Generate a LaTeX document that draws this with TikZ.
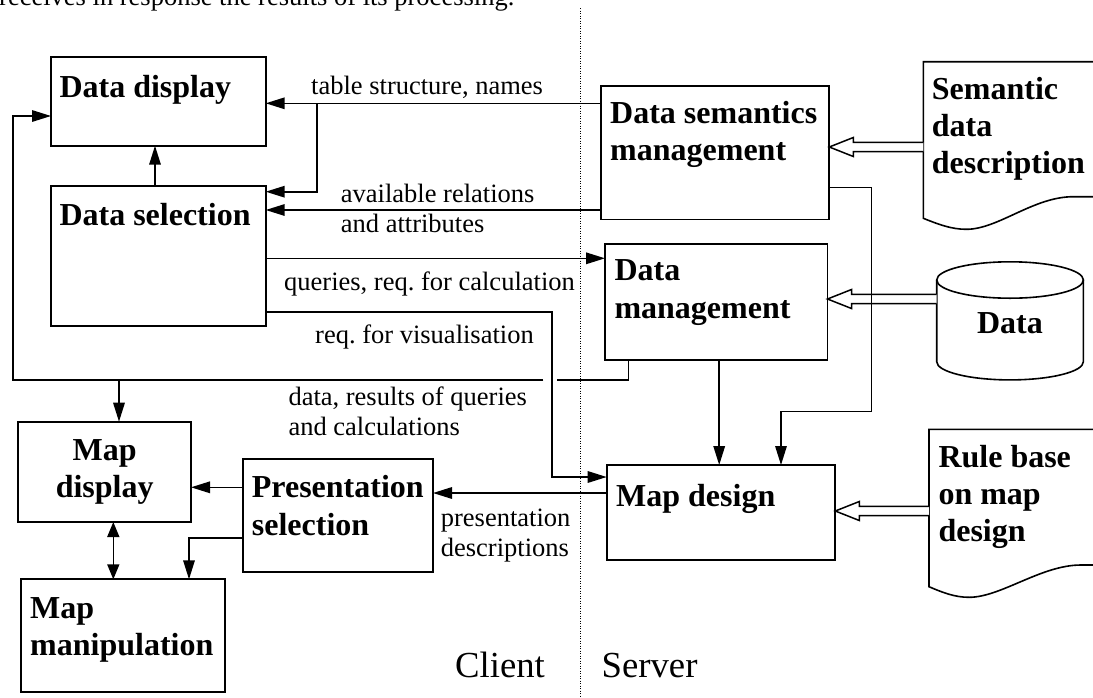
\documentclass[tikz,border=0pt]{standalone}
\usepackage{fontspec}
\setmainfont{Liberation Serif}
\usetikzlibrary{arrows.meta,calc}
\newcommand{\hollowarrow}[2]{%
  \path let \p1=(#1), \p2=(#2) in
    [draw, line width=1.5pt, fill=white]
    (\x1,\y1+4.7pt) -- (\x2+24pt,\y1+4.7pt) -- (\x2+24pt,\y1+9.5pt) -- (\x2,\y1)
    -- (\x2+24pt,\y1-9.5pt) -- (\x2+24pt,\y1-4.7pt) -- (\x1,\y1-4.7pt);}
\begin{document}
\begin{tikzpicture}[x=1pt,y=-1pt,
  box/.style={draw, line width=1.8pt, inner sep=0pt, outer sep=0pt, anchor=north west},
  area/.style={inner sep=0pt, outer sep=0pt, anchor=north west},
  title/.style={font=\bfseries\fontsize{32}{37.2}\selectfont, inner sep=0pt, anchor=base west, align=left},
  lbl/.style={font=\fontsize{26.5}{30}\selectfont\frenchspacing, inner sep=0pt, anchor=base west, align=left},
  big/.style={font=\fontsize{36.7}{40}\selectfont, inner sep=0pt, anchor=base west},
  conn/.style={line width=1.6pt},
  arr/.style={conn, -{Triangle[length=19pt,width=11.5pt]}},
  darr/.style={conn, {Triangle[length=15pt,width=12pt]}-{Triangle[length=15pt,width=12pt]}},
  docline/.style={line width=1.6pt},
  sep/.style={line width=1pt, dash pattern=on 1pt off 1.5pt}]
\useasboundingbox (0,0) rectangle (1093,697);

% cut-off text line at the top
\node[lbl] (toptext) at (-1,5.5) {receives in response the results of its processing.};

% client / server separator
\coordinate (sepTop) at (580,8);
\coordinate (sepBot) at (580,697);
\draw[sep] (sepTop) -- (sepBot);
\node[big] (client) at (455,677) {Client};
\node[big] (server) at (601.5,677) {Server};

% boxes (multi-line texts are anchored at the baseline of their last line)
\node[box, minimum width=214.7pt, minimum height=88.4pt] (dd) at (51,57.3) {};
\node[title] (ddT) at (59.3,97) {Data display};
\node[box, minimum width=214.7pt, minimum height=140pt] (dsel) at (51,185.7) {};
\node[title] (dselT) at (59.3,225) {Data selection};
\node[box, minimum width=228.3pt, minimum height=133.8pt] (dsm) at (601,85.7) {};
\node[title] (dsmT) at (610,160.8) {Data semantics\\management};
\node[box, minimum width=222.5pt, minimum height=116pt] (dm) at (605,244.3) {};
\node[title] (dmT) at (614.3,318) {Data\\management};
\node[box, minimum width=228.6pt, minimum height=95pt] (md) at (606.7,465) {};
\node[title] (mdT) at (616,506) {Map design};
\node[box, minimum width=172.7pt, minimum height=100.3pt] (mdisp) at (18.3,421.7) {};
\node[title, anchor=base, align=center] (mdispT) at (104.7,497.8) {Map\\display};
\node[box, minimum width=190.3pt, minimum height=112.4pt] (ps) at (242.7,459.3) {};
\node[title] (psT) at (251.7,535) {Presentation\\selection};
\node[box, minimum width=204.6pt, minimum height=113pt] (mm) at (20.7,579.3) {};
\node[title] (mmT) at (30,655.3) {Map\\manipulation};

% documents
\node[area, minimum width=172pt, minimum height=156.6pt] (semdoc) at (923.3,61.7) {};
\draw[docline] (semdoc.north east) -- (semdoc.north west) -- (semdoc.south west)
  .. controls +(15,6) and +(-15,0) .. ++(43,11)
  .. controls +(32,0) and +(-40,0) .. ++(107,-32.6) -- ++(30,0);
\node[title] (semdocT) at (931.7,173.8) {Semantic\\data\\description};

\node[area, minimum width=166pt, minimum height=157.4pt] (rule) at (929,429.3) {};
\draw[docline] (rule.north east) -- (rule.north west) -- (rule.south west)
  .. controls +(14,6) and +(-14,0) .. ++(40,10.6)
  .. controls +(32,0) and +(-40,0) .. ++(112,-32.3) -- ++(30,0);
\node[title] (ruleT) at (938.3,541.7) {Rule base\\on map\\design};

% database cylinder
\node[area, minimum width=146.7pt, minimum height=136.5pt] (cyl) at (936.7,261.7) {};
\draw[docline] (936.7,280) -- (936.7,361.7) arc[start angle=180, end angle=0, x radius=73.35, y radius=18.2] -- (1083.4,280);
\draw[docline] (1010.05,280) ellipse [x radius=73.35, y radius=18.2];
\node[title, anchor=base] (cylT) at (1010,333.3) {Data};

% hollow arrows
\hollowarrow{semdoc.west |- 0,147}{dsm.east |- 0,147}
\hollowarrow{cyl.west |- 0,299}{dm.east |- 0,299}
\hollowarrow{rule.west |- 0,511}{md.east |- 0,511}

% connectors
\coordinate (b1) at (316.7,103.3);
\draw[arr] (dsm.west |- b1) -- (dd.east |- b1);
\draw[arr] (b1) -- (316.7,191.7) -- (dsel.east |- 0,191.7);
\draw[arr] (dsm.west |- 0,210) -- (dsel.east |- 0,210);
\draw[arr] (dsel.east |- 0,258.3) -- (dm.west |- 0,258.3);
\coordinate (v1) at (551.7,311.7);
\draw[arr] (dsel.east |- v1) -- (v1) -- (551.7,477) -- (md.west |- 0,477);
\coordinate (r1) at (628.5,380);
\coordinate (gapR) at (556.7,380);
\coordinate (gapL) at (543.3,380);
\coordinate (lcorner) at (12.7,380);
\draw[conn] (dm.south -| r1) -- (r1) -- (gapR);
\draw[arr] (gapL) -- (lcorner) -- (12.7,116) -- (dd.west |- 0,116);
\draw[arr] (119,380) -- (mdisp.north -| 119,0);
\draw[arr] (dsel.north -| 155,0) -- (dd.south -| 155,0);
\draw[arr] (dm.south -| 719.2,0) -- (md.north -| 719.2,0);
\coordinate (s1) at (871.6,187.3);
\draw[arr] (dsm.east |- s1) -- (s1) -- (871.6,411.6) -- (781,411.6) -- (md.north -| 781,0);
\draw[arr] (md.west |- 0,493) -- (ps.east |- 0,493);
\draw[arr] (ps.west |- 0,487.3) -- (mdisp.east |- 0,487.3);
\draw[arr] (ps.west |- 0,537.7) -- (189,537.7) -- (mm.north -| 189,0);
\draw[darr] (mdisp.south -| 113.3,0) -- (mm.north -| 113.3,0);

% connector labels
\node[lbl] (l1) at (311,94) {table structure, names};
\node[lbl] (l2) at (340.7,232.7) {available relations\\and attributes};
\node[lbl] (l3) at (284,290) {queries, req. for calculation};
\node[lbl] (l4) at (315,343) {req. for visualisation};
\node[lbl] (l5) at (288.3,435) {data, results of queries\\and calculations};
\node[lbl] (l6) at (440.7,556) {presentation\\descriptions};
\end{tikzpicture}
\end{document}
